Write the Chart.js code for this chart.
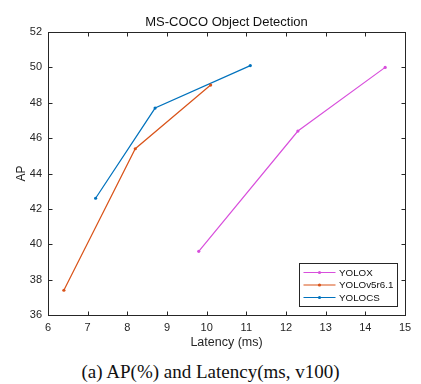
<!DOCTYPE html>
<html>
<head>
<meta charset="utf-8">
<script src="https://cdn.jsdelivr.net/npm/chart.js@4.4.1/dist/chart.umd.min.js"></script>
<style>
  body { margin: 0; background: #fff; }
  #wrap { position: relative; width: 421px; height: 384px; }
  #caption {
    position: absolute; left: 0; top: 361px; width: 421px;
    text-align: center; font-family: "Liberation Serif", "DejaVu Serif", serif;
    font-size: 19px; line-height: 22px; color: #111;
  }
</style>
</head>
<body>
<div id="wrap">
  <canvas id="myChart" width="421" height="355"></canvas>
  <div id="caption">(a) AP(%) and Latency(ms, v100)</div>
</div>
<script>
var chartTitle = 'MS-COCO Object Detection';
var seriesNames = ["YOLOX", "YOLOv5r6.1", "YOLOCS"];
var yoloxLatency = [9.8, 12.3, 14.5];
var yoloxAP = [39.6, 46.4, 50.0];
var yolov5Latency = [6.4, 8.2, 10.1];
var yolov5AP = [37.4, 45.4, 49.0];
var yolocsLatency = [7.2, 8.7, 11.1];
var yolocsAP = [42.6, 47.7, 50.1];
var xTicks = [6, 7, 8, 9, 10, 11, 12, 13, 14, 15];
var yTicks = [36, 38, 40, 42, 44, 46, 48, 50, 52];

var colors = ['#d84fdc', '#d95319', '#0072bd'];
var axisColor = '#262626';
var sans = '"Liberation Sans", Arial, sans-serif';

function toPoints(xs, ys) {
    return xs.map(function (v, i) { return {x: v, y: ys[i]}; });
}

var allX = [yoloxLatency, yolov5Latency, yolocsLatency];
var allY = [yoloxAP, yolov5AP, yolocsAP];

// title over the plot box, box with inward ticks on all four sides, legend inside
var boxPlugin = {
    id: 'matlabBox',
    afterDraw: function (chart) {
        var ctx = chart.ctx, a = chart.chartArea;
        var xs = chart.scales.x, ys = chart.scales.y;
        var L = Math.round(a.left) + 0.5, R = Math.round(a.right) + 0.5;
        var T = Math.round(a.top) + 0.5, B = Math.round(a.bottom) + 0.5;
        ctx.save();

        ctx.fillStyle = '#111';
        ctx.font = '13px ' + sans;
        ctx.textAlign = 'center';
        ctx.textBaseline = 'middle';
        ctx.fillText(chartTitle, (a.left + a.right) / 2, 22.5);

        ctx.strokeStyle = axisColor;
        ctx.lineWidth = 1;
        ctx.strokeRect(L, T, R - L, B - T);
        ctx.beginPath();
        xTicks.forEach(function (v) {
            var px = Math.round(xs.getPixelForValue(v)) + 0.5;
            ctx.moveTo(px, B); ctx.lineTo(px, B - 4);
            ctx.moveTo(px, T); ctx.lineTo(px, T + 4);
        });
        yTicks.forEach(function (v) {
            var py = Math.round(ys.getPixelForValue(v)) + 0.5;
            ctx.moveTo(L, py); ctx.lineTo(L + 4, py);
            ctx.moveTo(R, py); ctx.lineTo(R - 4, py);
        });
        ctx.stroke();

        // legend
        var lx = 299.5, ly = 263.5, lw = 98, lh = 43;
        ctx.fillStyle = '#fff';
        ctx.fillRect(lx, ly, lw, lh);
        ctx.strokeStyle = axisColor;
        ctx.strokeRect(lx, ly, lw, lh);
        ctx.font = '9.8px ' + sans;
        ctx.textAlign = 'left';
        chart.data.datasets.forEach(function (ds, i) {
            var cy = ly + 9 + i * 12.5;
            ctx.strokeStyle = ds.borderColor;
            ctx.lineWidth = 1.2;
            ctx.beginPath();
            ctx.moveTo(lx + 4, cy); ctx.lineTo(lx + 36, cy);
            ctx.stroke();
            ctx.fillStyle = ds.borderColor;
            ctx.beginPath();
            ctx.arc(lx + 20, cy, 1.6, 0, Math.PI * 2);
            ctx.fill();
            ctx.fillStyle = '#111';
            ctx.fillText(ds.label, lx + 39.5, cy + 0.5);
        });
        ctx.restore();
    }
};

var ctx = document.getElementById("myChart").getContext('2d');
var myChart = new Chart(ctx, {
    type: 'scatter',
    data: {
        datasets: seriesNames.map(function (name, i) {
            return {
                label: name,
                data: toPoints(allX[i], allY[i]),
                showLine: true,
                borderColor: colors[i],
                backgroundColor: colors[i],
                borderWidth: 1.2,
                pointRadius: 1.6,
                pointHoverRadius: 1.6,
                pointBorderWidth: 0
            };
        })
    },
    options: {
        responsive: false,
        animation: false,
        layout: { padding: { top: 32, right: 16, left: 0, bottom: 0 } },
        plugins: {
            legend: { display: false },
            tooltip: { enabled: false },
            title: { display: false }
        },
        scales: {
            x: {
                type: 'linear',
                min: 6, max: 15,
                afterFit: function (s) { s.height = 40; },
                afterBuildTicks: function (s) { s.ticks = xTicks.map(function (v) { return {value: v}; }); },
                grid: { display: false, drawTicks: false },
                border: { display: false },
                ticks: { color: axisColor, padding: 6, font: { family: sans, size: 11 } },
                title: { display: true, text: 'Latency (ms)', color: axisColor,
                         font: { family: sans, size: 12.5 }, padding: { bottom: 5, top: 0 } }
            },
            y: {
                type: 'linear',
                min: 36, max: 52,
                afterFit: function (s) { s.width = 48; },
                afterBuildTicks: function (s) { s.ticks = yTicks.map(function (v) { return {value: v}; }); },
                grid: { display: false, drawTicks: false },
                border: { display: false },
                ticks: { color: axisColor, padding: 6, font: { family: sans, size: 11 } },
                title: { display: true, text: 'AP', color: axisColor,
                         font: { family: sans, size: 12 }, padding: { top: 14, bottom: 0 } }
            }
        }
    },
    plugins: [boxPlugin]
});
</script>
</body>
</html>
